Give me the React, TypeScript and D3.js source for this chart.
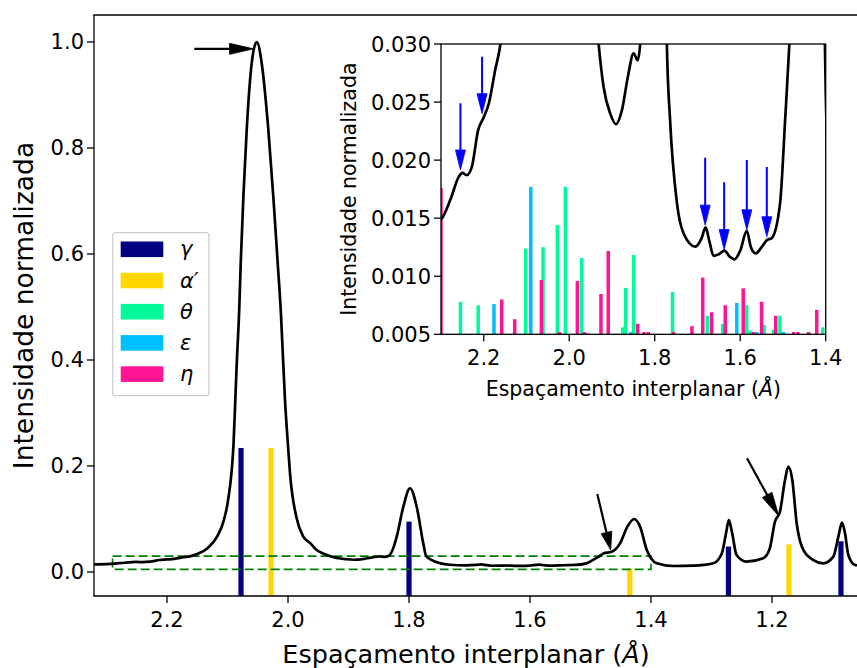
import React from 'react';
import * as d3 from 'd3';

const W = 857;
const H = 668;

// Diffractogram (interplanar spacing in Å, normalized intensity)
const curveD = [
  2.325, 2.3, 2.278, 2.258, 2.25, 2.24, 2.228, 2.213, 2.2, 2.188, 2.173, 2.161, 2.15, 2.133, 2.117,
  2.106, 2.099, 2.09, 2.085, 2.0805, 2.0782, 2.0738, 2.0683, 2.06, 2.0517, 2.0435, 2.0325, 2.0243,
  2.017, 2.012, 2.005, 1.9995, 1.9967, 1.9856, 1.9747, 1.963, 1.9526, 1.94, 1.9312, 1.9196, 1.904,
  1.8907, 1.8767, 1.8627, 1.8494, 1.84, 1.834, 1.826, 1.8203, 1.8094, 1.7983, 1.7873, 1.7764, 1.7716,
  1.764, 1.748, 1.7326, 1.7053, 1.69, 1.681, 1.672, 1.6625, 1.65, 1.6368, 1.625, 1.6134, 1.6, 1.5846,
  1.575, 1.5636, 1.55, 1.5378, 1.526, 1.5067, 1.495, 1.485, 1.4788, 1.465, 1.4512, 1.439, 1.428, 1.418,
  1.407, 1.4, 1.3906, 1.363, 1.33, 1.297, 1.283, 1.276, 1.2713, 1.2658, 1.2586, 1.2421, 1.2146, 1.2036,
  1.1951, 1.1868, 1.1785, 1.173, 1.1664, 1.1592, 1.1482, 1.1317, 1.115, 1.0986, 1.0903, 1.0843, 1.0793,
  1.0738, 1.0628, 1.05,
];
const curveI = [
  0.0145, 0.0149, 0.0166, 0.0186, 0.0189, 0.0187, 0.0194, 0.0226, 0.0237, 0.0249, 0.0278, 0.03, 0.034, 0.045, 0.067,
  0.098, 0.136, 0.243, 0.387, 0.5, 0.582, 0.708, 0.834, 0.96, 1.0, 0.96, 0.834, 0.708,
  0.582, 0.494, 0.3245, 0.23, 0.186, 0.101, 0.0667, 0.054, 0.0415, 0.034, 0.03, 0.0263, 0.024,
  0.0231, 0.0243, 0.0272, 0.0292, 0.0286, 0.03, 0.045, 0.0667, 0.123, 0.158, 0.123, 0.054, 0.03,
  0.0234, 0.0163, 0.0137, 0.01255, 0.0133, 0.0142, 0.013, 0.01175, 0.0119, 0.0122, 0.0117, 0.01146, 0.0122, 0.0139,
  0.0125, 0.01197, 0.0125, 0.0131, 0.0133, 0.0163, 0.0234, 0.03, 0.035, 0.038, 0.054, 0.0855, 0.1, 0.0855,
  0.0415, 0.026, 0.0164, 0.0113, 0.0119, 0.0164, 0.035, 0.073, 0.098, 0.073, 0.032, 0.0195, 0.0258, 0.0446,
  0.095, 0.114, 0.1736, 0.1987, 0.1736, 0.092, 0.0415, 0.0226, 0.0164, 0.0289, 0.0667, 0.093, 0.073,
  0.032, 0.0132, 0.012,
];

// Reference reflections shown in the main plot
const gammaD = [2.0777, 1.8, 1.272, 1.086];
const gammaI = [0.234, 0.095, 0.048, 0.058];
const alphaD = [2.028, 1.435, 1.172];
const alphaI = [0.234, 0.007, 0.052];

// Reference reflections shown in the inset
const thetaD = [2.2545, 2.213, 2.1018, 2.0613, 2.0278, 2.0091, 1.971, 1.875, 1.868, 1.8494, 1.7583, 1.677, 1.641, 1.585, 1.577, 1.544, 1.522, 1.507, 1.44, 1.407];
const thetaI = [0.0078, 0.0075, 0.01238, 0.0125, 0.01441, 0.0177, 0.01157, 0.0056, 0.009, 0.01183, 0.00864, 0.0066, 0.0059, 0.0075, 0.0053, 0.0058, 0.0054, 0.0066, 0.0052, 0.0056];
const epsD = [2.176, 2.09, 1.856, 1.608, 1.561, 1.499];
const epsI = [0.0076, 0.0177, 0.0052, 0.0077, 0.0052, 0.0052];
const etaD = [2.3, 2.158, 2.1276, 2.0652, 2.0224, 1.981, 1.965, 1.959, 1.9258, 1.9087, 1.84, 1.825, 1.815, 1.756, 1.713, 1.6877, 1.667, 1.635, 1.593, 1.569, 1.55, 1.517, 1.475, 1.465, 1.44, 1.421];
const etaI = [0.0176, 0.008, 0.0063, 0.00968, 0.0052, 0.0096, 0.0052, 0.0051, 0.00847, 0.01218, 0.0059, 0.0052, 0.0052, 0.0052, 0.0057, 0.00988, 0.0069, 0.0075, 0.00896, 0.0052, 0.0078, 0.0066, 0.0052, 0.0052, 0.0052, 0.0071];

const legendLabels = ['γ', 'α′', 'θ', 'ε', 'η'];
const phaseColors = ['#000080', '#FFD700', '#00FA9A', '#00BFFF', '#FF1493'];

const mainXTicks = [2.2, 2.0, 1.8, 1.6, 1.4, 1.2];
const mainYTicks = [0.0, 0.2, 0.4, 0.6, 0.8, 1.0];
const insetXTicks = [2.2, 2.0, 1.8, 1.6, 1.4];
const insetYTicks = [0.005, 0.01, 0.015, 0.02, 0.025, 0.03];

// Annotations (data coordinates)
const blackArrowTail = [[2.155, 0.987], [1.4888, 0.147], [1.2413, 0.2145]];
const blackArrowTip = [[2.057, 0.987], [1.4666, 0.0415], [1.1889, 0.1057]];
const blackArrowHead = [24, 18, 24];
const blueArrowD = [2.2545, 2.2039, 1.682, 1.6376, 1.5846, 1.5378];
const blueArrowTail = [0.0249, 0.0289, 0.0202, 0.0181, 0.02, 0.0194];
const blueArrowTip = [0.01915, 0.024, 0.0144, 0.0123, 0.014, 0.0134];
const zoomBoxD = [2.29, 1.4];
const zoomBoxI = [0.005, 0.03];

const FONT = 'DejaVu Sans, sans-serif';

function Arrow({ x1, y1, x2, y2, color, hl, hw, sw }: any) {
  const dx = x2 - x1;
  const dy = y2 - y1;
  const len = Math.sqrt(dx * dx + dy * dy);
  const ux = dx / len;
  const uy = dy / len;
  const bx = x2 - ux * hl;
  const by = y2 - uy * hl;
  const px = -uy * hw / 2;
  const py = ux * hw / 2;
  return (
    <g>
      <line x1={x1} y1={y1} x2={bx + ux * 1} y2={by + uy * 1} stroke={color} strokeWidth={sw} />
      <polygon points={`${x2},${y2} ${bx + px},${by + py} ${bx - px},${by - py}`} fill={color} stroke={color} strokeWidth={0.8} strokeLinejoin="miter" />
    </g>
  );
}

function XLabel({ x, y, size }: any) {
  return (
    <text x={x} y={y} fontSize={size} textAnchor="middle">
      Espaçamento interplanar (<tspan fontStyle="italic">Å</tspan>)
    </text>
  );
}

export default function App() {
  // main axes
  const xM = d3.scaleLinear().domain([2.3207, 1.058]).range([94, 857.9]);
  const yM = d3.scaleLinear().domain([-0.0453, 1.0509]).range([596, 15]);
  // inset axes
  const xI = d3.scaleLinear().domain([2.3, 1.4]).range([441, 825.7]);
  const yI = d3.scaleLinear().domain([0.005, 0.03]).range([334.3, 44]);

  const pts: [number, number][] = curveD.map((d, i) => [d, curveI[i]]);
  const lineM = d3.line<[number, number]>().x(p => xM(p[0])).y(p => yM(p[1])).curve(d3.curveMonotoneX);
  const lineI = d3.line<[number, number]>().x(p => xI(p[0])).y(p => yI(p[1])).curve(d3.curveMonotoneX);

  const mainBarW = 5.2;
  const insetBarW = 3.5;

  const insetSeries = [
    { d: thetaD, v: thetaI, c: phaseColors[2] },
    { d: epsD, v: epsI, c: phaseColors[3] },
    { d: etaD, v: etaI, c: phaseColors[4] },
  ];

  const [xl, xr] = xM.range();
  const [yb, yt] = yM.range();
  const [ixl, ixr] = xI.range();
  const [iyb, iyt] = yI.range();

  return (
    <svg width={W} height={H} style={{ position: 'absolute', left: 0, top: 0, background: '#fff' }} fontFamily={FONT}>
      <defs>
        <clipPath id="clipMain"><rect x={xl} y={yt} width={xr - xl} height={yb - yt} /></clipPath>
        <clipPath id="clipInset"><rect x={ixl} y={iyt} width={ixr - ixl} height={iyb - iyt} /></clipPath>
      </defs>
      <rect x={0} y={0} width={W} height={H} fill="#fff" />

      {/* main plot */}
      <g clipPath="url(#clipMain)">
        {gammaD.map((d, i) => (
          <rect key={'g' + i} x={xM(d) - mainBarW / 2} y={yM(gammaI[i])} width={mainBarW} height={yM.range()[0] - yM(gammaI[i])} fill={phaseColors[0]} />
        ))}
        {alphaD.map((d, i) => (
          <rect key={'a' + i} x={xM(d) - mainBarW / 2} y={yM(alphaI[i])} width={mainBarW} height={yM.range()[0] - yM(alphaI[i])} fill={phaseColors[1]} />
        ))}
        <rect x={xM(zoomBoxD[0])} y={yM(zoomBoxI[1])} width={xM(zoomBoxD[1]) - xM(zoomBoxD[0])} height={yM(zoomBoxI[0]) - yM(zoomBoxI[1])}
          fill="none" stroke="#008000" strokeWidth={1.6} strokeDasharray="9,4" />
        <path d={lineM(pts) || ''} fill="none" stroke="#000" strokeWidth={2.7} strokeLinejoin="round" />
        {blackArrowTail.map((t, i) => (
          <Arrow key={'ba' + i} x1={xM(t[0])} y1={yM(t[1])} x2={xM(blackArrowTip[i][0])} y2={yM(blackArrowTip[i][1])} color="#000" hl={blackArrowHead[i]} hw={11} sw={2.2} />
        ))}
      </g>
      {/* main spines */}
      <line x1={xl} y1={yt} x2={xl} y2={yb} stroke="#000" strokeWidth={1.3} />
      <line x1={xl - 0.65} y1={yb} x2={W} y2={yb} stroke="#000" strokeWidth={1.3} />
      <line x1={xl - 0.65} y1={yt} x2={W} y2={yt} stroke="#000" strokeWidth={1.3} />
      {mainYTicks.map(t => (
        <g key={'my' + t}>
          <line x1={xl - 7} x2={xl} y1={yM(t)} y2={yM(t)} stroke="#000" strokeWidth={1.3} />
          <text x={xl - 10} y={yM(t) + 7.5} fontSize={21} textAnchor="end">{t.toFixed(1)}</text>
        </g>
      ))}
      {mainXTicks.map(t => (
        <g key={'mx' + t}>
          <line x1={xM(t)} x2={xM(t)} y1={yb} y2={yb + 7} stroke="#000" strokeWidth={1.3} />
          <text x={xM(t)} y={626.5} fontSize={21} textAnchor="middle">{t.toFixed(1)}</text>
        </g>
      ))}
      <XLabel x={466} y={663} size={25.5} />
      <text transform="translate(33,305.5) rotate(-90)" fontSize={26.5} textAnchor="middle">Intensidade normalizada</text>

      {/* legend */}
      <rect x={112.7} y={232.7} width={96.3} height={163} rx={3} fill="#fff" fillOpacity={0.8} stroke="#cccccc" strokeWidth={1.2} />
      {legendLabels.map((lab, i) => {
        const cy = 249.3 + i * 31.2;
        return (
          <g key={'lg' + i}>
            <rect x={120.7} y={cy - 7.8} width={42.6} height={15.6} fill={phaseColors[i]} />
            <text x={180} y={cy + 7} fontSize={21} fontStyle="italic">{lab}</text>
          </g>
        );
      })}

      {/* inset */}
      <rect x={ixl} y={iyt} width={ixr - ixl} height={iyb - iyt} fill="#fff" />
      <g clipPath="url(#clipInset)">
        {insetSeries.map((s, si) => s.d.map((d, i) => (
          <rect key={'is' + si + '-' + i} x={xI(d) - insetBarW / 2} y={yI(s.v[i])} width={insetBarW} height={iyb - yI(s.v[i])} fill={s.c} />
        )))}
        <path d={lineI(pts) || ''} fill="none" stroke="#000" strokeWidth={2.7} strokeLinejoin="round" />
        {blueArrowD.map((d, i) => (
          <Arrow key={'bl' + i} x1={xI(d)} y1={yI(blueArrowTail[i])} x2={xI(d)} y2={yI(blueArrowTip[i])} color="#0000FF" hl={20} hw={10} sw={2} />
        ))}
      </g>
      <rect x={ixl} y={iyt} width={ixr - ixl} height={iyb - iyt} fill="none" stroke="#000" strokeWidth={1.3} />
      {insetYTicks.map(t => (
        <g key={'iy' + t}>
          <line x1={ixl - 7} x2={ixl} y1={yI(t)} y2={yI(t)} stroke="#000" strokeWidth={1.3} />
          <text x={ixl - 10} y={yI(t) + 7.5} fontSize={21} textAnchor="end">{t.toFixed(3)}</text>
        </g>
      ))}
      {insetXTicks.map(t => (
        <g key={'ix' + t}>
          <line x1={xI(t)} x2={xI(t)} y1={iyb} y2={iyb + 7} stroke="#000" strokeWidth={1.3} />
          <text x={xI(t)} y={365} fontSize={21} textAnchor="middle">{t.toFixed(1)}</text>
        </g>
      ))}
      <XLabel x={(ixl + ixr) / 2} y={396} size={20.5} />
      <text transform={`translate(356,${(iyb + iyt) / 2}) rotate(-90)`} fontSize={20.5} textAnchor="middle">Intensidade normalizada</text>
    </svg>
  );
}
